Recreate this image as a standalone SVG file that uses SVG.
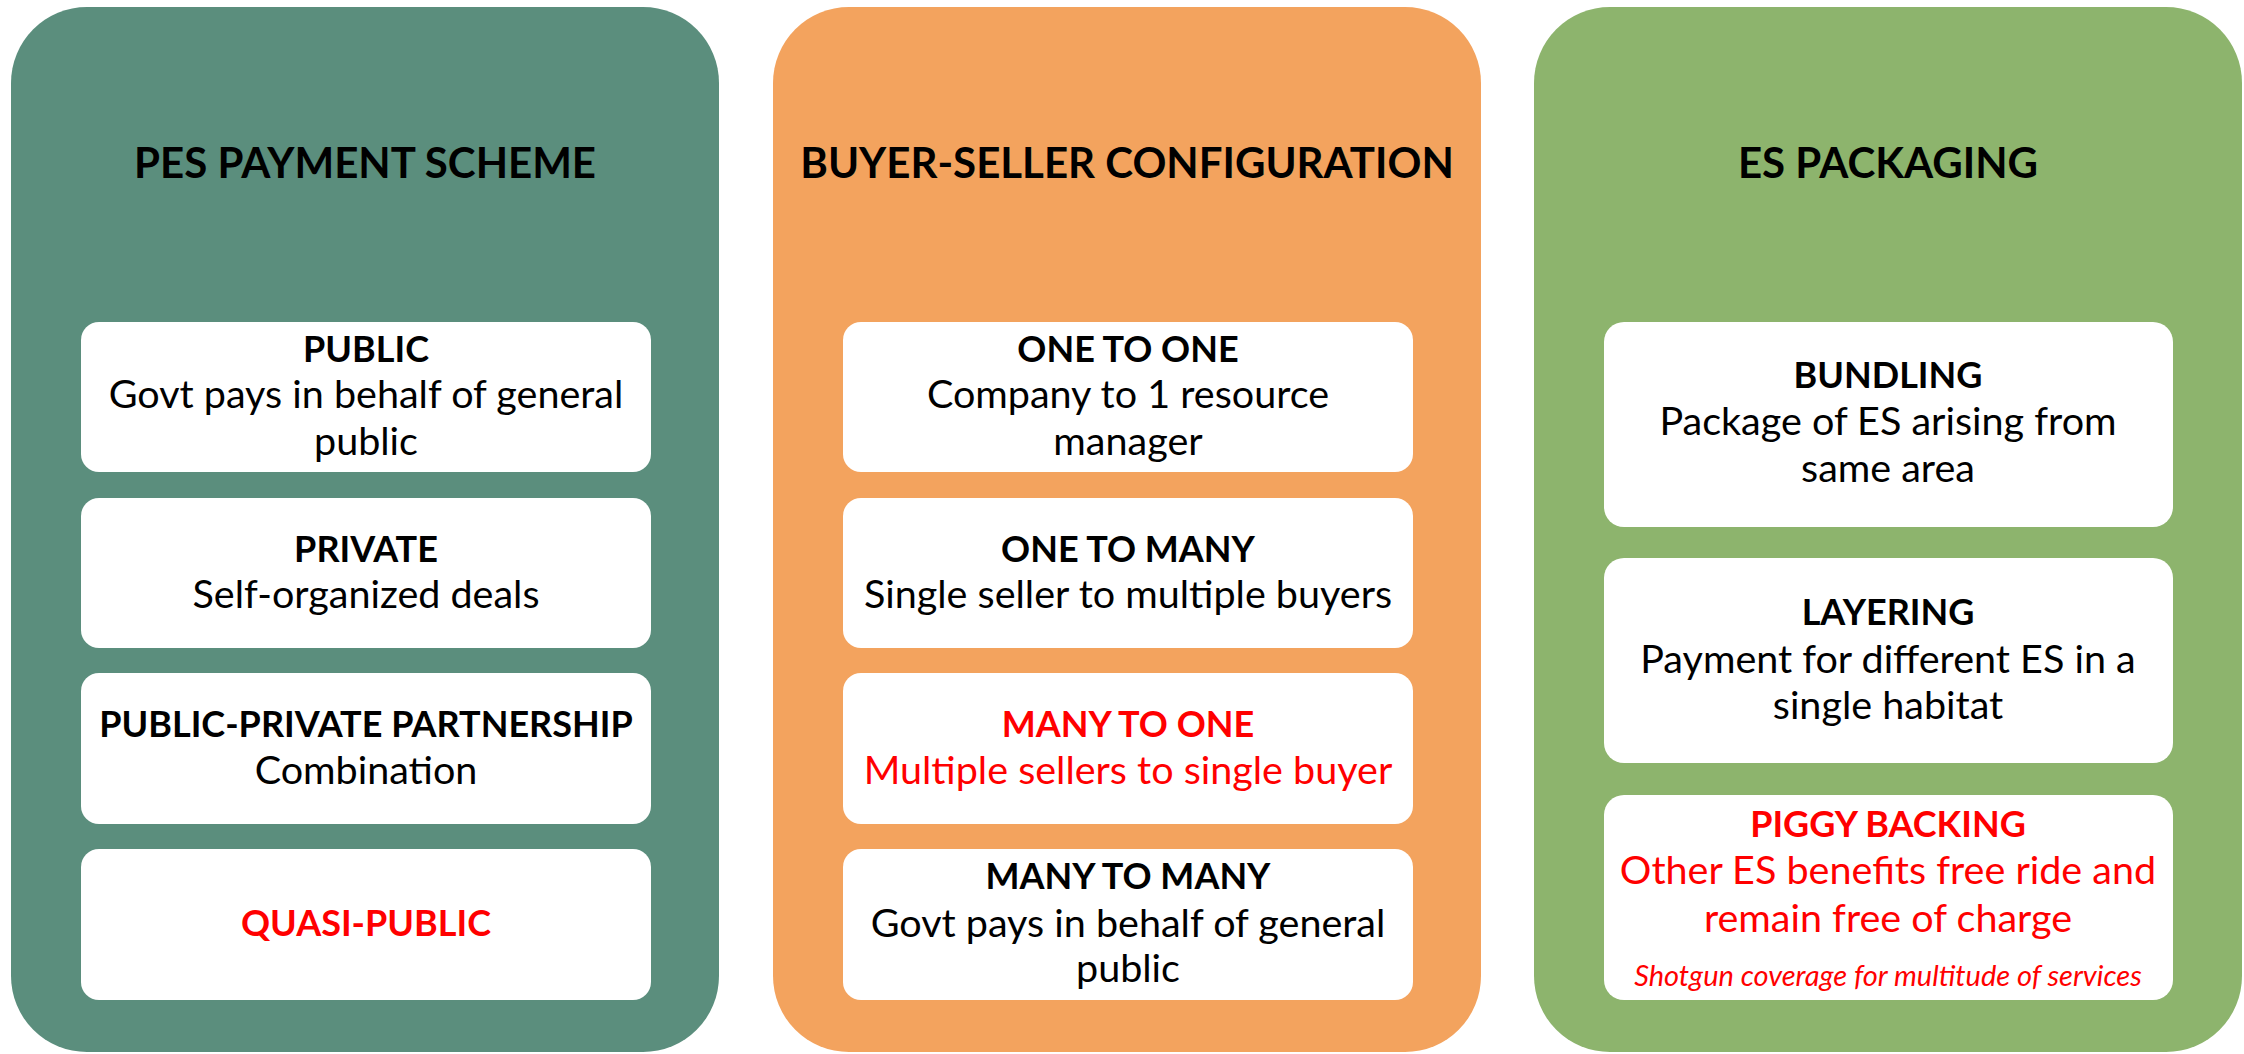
<svg xmlns="http://www.w3.org/2000/svg" width="2244" height="1054" viewBox="0 0 2244 1054">
  <style>
    text { font-family: Lato, "Open Sans", "Liberation Sans", sans-serif; text-anchor: middle; fill: #000; }
    .title { font-size: 42px; font-weight: 700; }
    .head { font-size: 36px; font-weight: 700; }
    .body { font-size: 39.5px; }
    .note { font-size: 29px; font-style: italic; }
    .red { fill: #FF0000; }
    .card { fill: #FFFFFF; }
  </style>

  <!-- column backgrounds -->
  <g id="col-payment">
    <rect x="11" y="7" width="708" height="1045" rx="76" fill="#5B8E7D"/>
    <text class="title" x="365" y="178">PES PAYMENT SCHEME</text>
  </g>
  <g id="col-config">
    <rect x="773" y="7" width="708" height="1045" rx="76" fill="#F3A35E"/>
    <text class="title" x="1127" y="178">BUYER-SELLER CONFIGURATION</text>
  </g>
  <g id="col-packaging">
    <rect x="1534" y="7" width="708" height="1045" rx="76" fill="#8DB46D"/>
    <text class="title" x="1888" y="178">ES PACKAGING</text>
  </g>

  <!-- payment scheme cards -->
  <g id="public">
    <rect class="card" x="81" y="322" width="570" height="150" rx="18"/>
    <text class="head" x="366" y="362">PUBLIC</text>
    <text class="body" x="366" y="408">Govt pays in behalf of general</text>
    <text class="body" x="366" y="455">public</text>
  </g>
  <g id="private">
    <rect class="card" x="81" y="498" width="570" height="150" rx="18"/>
    <text class="head" x="366" y="562">PRIVATE</text>
    <text class="body" x="366" y="608">Self-organized deals</text>
  </g>
  <g id="ppp">
    <rect class="card" x="81" y="673" width="570" height="151" rx="18"/>
    <text class="head" x="366" y="737">PUBLIC-PRIVATE PARTNERSHIP</text>
    <text class="body" x="366" y="784">Combination</text>
  </g>
  <g id="quasi-public">
    <rect class="card" x="81" y="849" width="570" height="151" rx="18"/>
    <text class="head red" x="366" y="936">QUASI-PUBLIC</text>
  </g>

  <!-- buyer-seller cards -->
  <g id="one-to-one">
    <rect class="card" x="843" y="322" width="570" height="150" rx="18"/>
    <text class="head" x="1128" y="362">ONE TO ONE</text>
    <text class="body" x="1128" y="408">Company to 1 resource</text>
    <text class="body" x="1128" y="455">manager</text>
  </g>
  <g id="one-to-many">
    <rect class="card" x="843" y="498" width="570" height="150" rx="18"/>
    <text class="head" x="1128" y="562">ONE TO MANY</text>
    <text class="body" x="1128" y="608">Single seller to multiple buyers</text>
  </g>
  <g id="many-to-one">
    <rect class="card" x="843" y="673" width="570" height="151" rx="18"/>
    <text class="head red" x="1128" y="737">MANY TO ONE</text>
    <text class="body red" x="1128" y="784">Multiple sellers to single buyer</text>
  </g>
  <g id="many-to-many">
    <rect class="card" x="843" y="849" width="570" height="151" rx="18"/>
    <text class="head" x="1128" y="889">MANY TO MANY</text>
    <text class="body" x="1128" y="937">Govt pays in behalf of general</text>
    <text class="body" x="1128" y="982">public</text>
  </g>

  <!-- packaging cards -->
  <g id="bundling">
    <rect class="card" x="1604" y="322" width="569" height="205" rx="20"/>
    <text class="head" x="1888" y="388">BUNDLING</text>
    <text class="body" x="1888" y="435">Package of ES arising from</text>
    <text class="body" x="1888" y="482">same area</text>
  </g>
  <g id="layering">
    <rect class="card" x="1604" y="558" width="569" height="205" rx="20"/>
    <text class="head" x="1888" y="625">LAYERING</text>
    <text class="body" x="1888" y="673">Payment for different ES in a</text>
    <text class="body" x="1888" y="719">single habitat</text>
  </g>
  <g id="piggy-backing">
    <rect class="card" x="1604" y="795" width="569" height="205" rx="20"/>
    <text class="head red" x="1888" y="837">PIGGY BACKING</text>
    <text class="body red" x="1888" y="884">Other ES benefits free ride and</text>
    <text class="body red" x="1888" y="932">remain free of charge</text>
    <text class="note red" x="1888" y="986">Shotgun coverage for multitude of services</text>
  </g>
</svg>
